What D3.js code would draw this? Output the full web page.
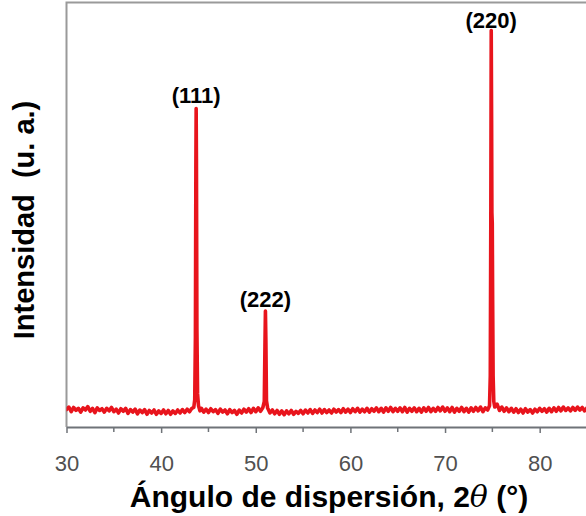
<!DOCTYPE html>
<html>
<head>
<meta charset="utf-8">
<script src="https://cdn.jsdelivr.net/npm/d3@7/dist/d3.min.js"></script>
<style>
  html, body { margin: 0; padding: 0; background: #fff; }
  svg { display: block; }
</style>
</head>
<body>
<svg id="chart" width="586" height="516"></svg>
<script>
// X-ray diffraction pattern: [2θ (degrees), intensity (arbitrary units)]
const pattern = [
  [30.00,41],[30.25,47],[30.50,36],[30.75,46],[31.00,39],[31.25,44],[31.50,35],[31.75,45],
  [32.00,40],[32.25,48],[32.50,37],[32.75,44],[33.00,34],[33.25,45],[33.50,39],[33.75,43],
  [34.00,35],[34.25,44],[34.50,38],[34.75,46],[35.00,36],[35.25,42],[35.50,33],[35.75,43],
  [36.00,37],[36.25,44],[36.50,32],[36.75,41],[37.00,35],[37.25,42],[37.50,31],[37.75,40],
  [38.00,34],[38.25,41],[38.50,30],[38.75,39],[39.00,33],[39.25,40],[39.50,30],[39.75,38],
  [40.00,32],[40.25,40],[40.50,31],[40.75,39],[41.00,30],[41.25,38],[41.50,32],[41.75,40],
  [42.00,33],[42.25,41],[42.50,34],[42.75,42],[43.00,36],[43.25,44],[43.45,46],[43.55,64],
  [43.62,210],[43.67,610],[43.70,750],[43.73,630],[43.78,230],[43.85,78],[43.95,50],[44.10,38],
  [44.25,44],[44.50,35],[44.75,42],[45.00,34],[45.25,43],[45.50,36],[45.75,41],[46.00,32],
  [46.25,42],[46.50,35],[46.75,40],[47.00,31],[47.25,41],[47.50,34],[47.75,39],[48.00,30],
  [48.25,40],[48.50,33],[48.75,42],[49.00,35],[49.25,43],[49.50,34],[49.75,44],[50.00,36],
  [50.25,45],[50.50,37],[50.75,46],[50.90,60],[50.97,190],[51.02,273],[51.07,200],[51.13,62],
  [51.25,45],[51.50,33],[51.75,40],[52.00,31],[52.25,39],[52.50,30],[52.75,38],[53.00,29],
  [53.25,38],[53.50,31],[53.75,39],[54.00,30],[54.25,37],[54.50,32],[54.75,39],[55.00,31],
  [55.25,40],[55.50,33],[55.75,41],[56.00,32],[56.25,40],[56.50,34],[56.75,42],[57.00,33],
  [57.25,41],[57.50,34],[57.75,40],[58.00,33],[58.25,42],[58.50,35],[58.75,41],[59.00,34],
  [59.25,43],[59.50,35],[59.75,42],[60.00,34],[60.25,43],[60.50,36],[60.75,44],[61.00,35],
  [61.25,42],[61.50,36],[61.75,44],[62.00,35],[62.25,43],[62.50,37],[62.75,45],[63.00,36],
  [63.25,44],[63.50,35],[63.75,45],[64.00,37],[64.25,46],[64.50,36],[64.75,44],[65.00,37],
  [65.25,45],[65.50,36],[65.75,46],[66.00,35],[66.25,44],[66.50,37],[66.75,45],[67.00,36],
  [67.25,44],[67.50,35],[67.75,45],[68.00,37],[68.25,46],[68.50,36],[68.75,44],[69.00,37],
  [69.25,46],[69.50,38],[69.75,47],[70.00,37],[70.25,45],[70.50,36],[70.75,46],[71.00,35],
  [71.25,44],[71.50,37],[71.75,46],[72.00,36],[72.25,44],[72.50,35],[72.75,45],[73.00,37],
  [73.25,46],[73.50,38],[73.75,47],[74.00,36],[74.25,45],[74.50,40],[74.70,50],[74.78,120],
  [74.84,520],[74.88,934],[74.92,720],[74.95,505],[74.99,480],[75.03,300],[75.08,120],[75.15,60],
  [75.25,47],[75.50,54],[75.75,39],[76.00,47],[76.25,37],[76.50,45],[76.75,36],[77.00,44],
  [77.25,35],[77.50,43],[77.75,34],[78.00,42],[78.25,33],[78.50,43],[78.75,35],[79.00,41],
  [79.25,33],[79.50,42],[79.75,36],[80.00,44],[80.25,37],[80.50,43],[80.75,35],[81.00,44],
  [81.25,36],[81.50,45],[81.75,37],[82.00,46],[82.25,38],[82.50,47],[82.75,39],[83.00,45],
  [83.25,38],[83.50,46],[83.75,39],[84.00,47],[84.25,40],[84.50,46],[84.75,38],[85.00,45]
];

// Miller indices of the reflections: [label, 2θ, intensity at the apex]
const reflections = [
  ["(111)", 43.70, 750],
  ["(222)", 51.02, 273],
  ["(220)", 74.88, 934]
];

const majorTicks = [30, 40, 50, 60, 70, 80];
const minorTicks = [35, 45, 55, 65, 75, 85];

const xLabel = "Ángulo de dispersión, 2";
const thetaSymbol = "θ";
const xLabelEnd = " (°)";
const yLabel = "Intensidad\u00a0\u00a0(u. a.)";

const svg = d3.select("#chart");
const plotLeft = 66.5, plotRight = 587, plotTop = 2.5, plotBottom = 427;

const x = d3.scaleLinear().domain([30, 85]).range([plotLeft, plotRight]);
const y = d3.scaleLinear().domain([0, 1000]).range([plotBottom, plotTop]);

// plot frame (left and top)
svg.append("path")
  .attr("d", `M${plotLeft},${plotBottom} V${plotTop} H586`)
  .attr("fill", "none")
  .attr("stroke", "#9a9a9a")
  .attr("stroke-width", 2);

// bottom axis with major and minor ticks
const axisG = svg.append("g").attr("transform", `translate(0,${plotBottom})`);
axisG.call(d3.axisBottom(x).tickValues(majorTicks).tickSize(6).tickSizeOuter(0).tickFormat(d3.format("d")))
  .call(g => g.select(".domain").attr("stroke", "#6f7378").attr("stroke-width", 2))
  .call(g => g.selectAll(".tick line").attr("stroke", "#6f7378").attr("stroke-width", 1.5))
  .call(g => g.selectAll(".tick text")
    .attr("fill", "#505050")
    .attr("font-family", "'Liberation Sans', Arial, sans-serif")
    .attr("font-size", 22)
    .attr("dy", null)
    .attr("y", 44));

axisG.selectAll(".minor")
  .data(minorTicks)
  .join("line")
  .attr("class", "minor")
  .attr("x1", d => x(d)).attr("x2", d => x(d))
  .attr("y1", 0).attr("y2", 5)
  .attr("stroke", "#6f7378")
  .attr("stroke-width", 1.5);

// diffraction trace
svg.append("clipPath").attr("id", "plotClip")
  .append("rect").attr("x", plotLeft).attr("y", plotTop).attr("width", 586 - plotLeft).attr("height", plotBottom - plotTop);

const line = d3.line().x(d => x(d[0])).y(d => y(d[1]));
svg.append("path")
  .datum(pattern)
  .attr("clip-path", "url(#plotClip)")
  .attr("d", line)
  .attr("fill", "none")
  .attr("stroke", "#e8141c")
  .attr("stroke-width", 3.6)
  .attr("stroke-linejoin", "round")
  .attr("stroke-linecap", "round");

// reflection labels
const labelOffset = { "(111)": 6, "(222)": 4, "(220)": 3 };
svg.selectAll(".hkl")
  .data(reflections)
  .join("text")
  .attr("class", "hkl")
  .attr("x", d => x(d[1]))
  .attr("y", d => y(d[2]) - labelOffset[d[0]])
  .attr("text-anchor", "middle")
  .attr("font-family", "'Liberation Sans', Arial, sans-serif")
  .attr("font-weight", "bold")
  .attr("font-size", 22)
  .attr("fill", "#000")
  .text(d => d[0]);

// axis titles
const xt = svg.append("text")
  .attr("x", 329)
  .attr("y", 507)
  .attr("text-anchor", "middle")
  .attr("font-family", "'Liberation Sans', Arial, sans-serif")
  .attr("font-weight", "bold")
  .attr("font-size", 30)
  .attr("fill", "#000");
xt.append("tspan").text(xLabel);
xt.append("tspan").attr("font-style", "italic").attr("font-family", "'DejaVu Serif', serif").attr("font-weight", "normal").text(thetaSymbol);
xt.append("tspan").text(xLabelEnd);

svg.append("text")
  .attr("transform", "translate(34,220) rotate(-90)")
  .attr("text-anchor", "middle")
  .attr("font-family", "'Liberation Sans', Arial, sans-serif")
  .attr("font-weight", "bold")
  .attr("font-size", 29)
  .attr("fill", "#000")
  .text(yLabel);
</script>
</body>
</html>
